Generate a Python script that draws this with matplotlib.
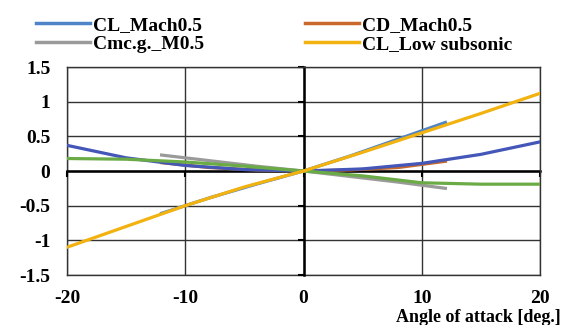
import matplotlib.pyplot as plt
from matplotlib.lines import Line2D

plt.rcParams["font.family"] = ["Liberation Serif", "DejaVu Serif"]
plt.rcParams["font.weight"] = "bold"

# Mach 0.5 data (-12 .. 12 deg)
aoa_mach = [-12, -8, -4, 0, 4, 8, 12]
cl_mach = [-0.61, -0.39, -0.19, 0.0, 0.22, 0.46, 0.70]
cd_mach = [0.12, 0.05, 0.015, 0.0, 0.015, 0.05, 0.14]
cm_mach = [0.23, 0.15, 0.07, 0.0, -0.08, -0.16, -0.25]

# low subsonic data (-20 .. 20 deg)
aoa_low = [-20, -15, -10, -5, 0, 5, 10, 15, 20]
cl_low = [-1.10, -0.80, -0.50, -0.23, 0.0, 0.27, 0.55, 0.83, 1.12]
cd_low = [0.37, 0.19, 0.08, 0.02, 0.0, 0.03, 0.11, 0.24, 0.42]
cm_low = [0.18, 0.17, 0.13, 0.07, 0.0, -0.07, -0.17, -0.19, -0.19]

x_ticks = [-20, -10, 0, 10, 20]
x_labels = ["-20", "-10", "0", "10", "20"]
y_ticks = [-1.5, -1, -0.5, 0, 0.5, 1, 1.5]
y_labels = ["-1.5", "-1", "-0.5", "0", "0.5", "1", "1.5"]

c_cl = "#4f85c8"
c_cd = "#c8682a"
c_cm = "#9a9a9a"
c_low = "#f2b20f"
c_cdlow = "#4457b8"
c_cmlow = "#6aab45"
grid_c = "#333333"

fig = plt.figure(figsize=(5.62, 3.25), dpi=100)
ax = fig.add_axes([67 / 562, 1 - 275 / 325, 473 / 562, 208 / 325])

lw = 2.3
ax.plot(aoa_mach, cd_mach, color=c_cd, lw=lw, zorder=3)
ax.plot(aoa_mach, cl_mach, color=c_cl, lw=lw, zorder=3)
ax.plot(aoa_low, cd_low, color=c_cdlow, lw=lw, zorder=4)
ax.plot(aoa_mach, cm_mach, color=c_cm, lw=lw, zorder=4)
ax.plot(aoa_low, cm_low, color=c_cmlow, lw=lw, zorder=5)
ax.plot(aoa_low, cl_low, color=c_low, lw=lw, zorder=5)

ax.set_xlim(-20, 20)
ax.set_ylim(-1.5, 1.5)
ax.set_xticks(x_ticks)
ax.set_yticks(y_ticks)
ax.grid(True, color=grid_c, lw=1)
ax.set_axisbelow(True)

# zero axes with small ticks
ax.spines["left"].set_position(("data", 0))
ax.spines["bottom"].set_position(("data", 0))
for s in ["left", "bottom"]:
    ax.spines[s].set_linewidth(1.8)
    ax.spines[s].set_color("black")
    ax.spines[s].set_zorder(2)
for s in ["top", "right"]:
    ax.spines[s].set_linewidth(1)
    ax.spines[s].set_color(grid_c)
ax.tick_params(axis="both", direction="out", length=4, width=1.5,
               labelleft=False, labelbottom=False)

# outer labels
sy = ax.secondary_yaxis("left")
sy.set_yticks(y_ticks)
sy.set_yticklabels(y_labels)
sy.tick_params(length=0, pad=12, labelsize=14)
sy.spines["left"].set_linewidth(1)
sy.spines["left"].set_color(grid_c)

sx = ax.secondary_xaxis("bottom")
sx.set_xticks(x_ticks)
sx.set_xticklabels(x_labels)
sx.tick_params(length=0, pad=11, labelsize=14)
sx.spines["bottom"].set_linewidth(1)
sx.spines["bottom"].set_color(grid_c)

fig.text(0.998, 0.022, "Angle of attack [deg.]", ha="right", va="center",
         fontsize=13, fontweight="bold")

col1 = [Line2D([], [], color=c_cl, lw=2.5), Line2D([], [], color=c_cm, lw=2.5)]
col2 = [Line2D([], [], color=c_cd, lw=2.5), Line2D([], [], color=c_low, lw=2.5)]
leg_kw = dict(frameon=False, fontsize=14, handlelength=2.8, handletextpad=0.15,
              labelspacing=0.1, borderpad=0, borderaxespad=0, loc="upper left")
fig.legend(col1, ["CL_Mach0.5", "Cmc.g._M0.5"], bbox_to_anchor=(36 / 562, 1 - 16 / 325), **leg_kw)
fig.legend(col2, ["CD_Mach0.5", "CL_Low subsonic"], bbox_to_anchor=(305 / 562, 1 - 16 / 325), **leg_kw)

fig.savefig("out.png", dpi=100)
